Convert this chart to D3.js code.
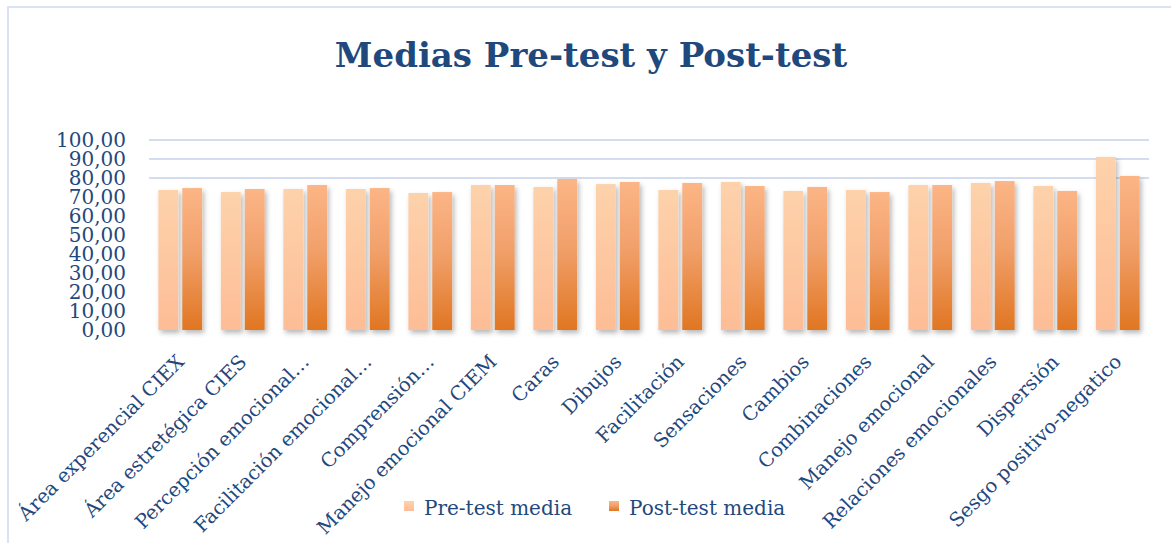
<!DOCTYPE html>
<html>
<head>
<meta charset="utf-8">
<script src="https://cdn.jsdelivr.net/npm/d3@7"></script>
<style>
  html, body { margin: 0; padding: 0; background: #fff; }
  svg { display: block; }
  text { font-family: "DejaVu Serif", "Liberation Serif", serif; }
</style>
</head>
<body>
<svg id="chart" width="1171" height="543"></svg>
<script>
const categories = [
  "Área experencial CIEX", "Área estretégica CIES", "Percepción emocional…",
  "Facilitación emocional…", "Comprensión…", "Manejo emocional CIEM",
  "Caras", "Dibujos", "Facilitación", "Sensaciones", "Cambios",
  "Combinaciones", "Manejo emocional", "Relaciones emocionales",
  "Dispersión", "Sesgo positivo-negatico"
];
const preValues  = [73.7, 72.6, 74.2, 74.2, 72.1, 76.3, 75.3, 76.8, 73.7, 77.9, 73.2, 73.7, 76.3, 77.4, 75.8, 91.1];
const postValues = [74.7, 74.2, 76.3, 74.7, 72.6, 76.3, 79.5, 77.9, 77.4, 75.8, 75.3, 72.6, 76.3, 78.4, 73.2, 81.1];
const seriesNames = ["Pre-test media", "Post-test media"];
const yTicks = [0, 10, 20, 30, 40, 50, 60, 70, 80, 90, 100];
const titleText = "Medias Pre-test y Post-test";

const svg = d3.select("#chart");
const textColor = "#1f497d";

// defs: gradients and shadows
const defs = svg.append("defs");
const gPre = defs.append("linearGradient").attr("id", "gradPre").attr("x1", 0).attr("y1", 0).attr("x2", 0).attr("y2", 1);
gPre.append("stop").attr("offset", "0%").attr("stop-color", "#fdd2ab");
gPre.append("stop").attr("offset", "100%").attr("stop-color", "#fdbd96");
const gPost = defs.append("linearGradient").attr("id", "gradPost").attr("x1", 0).attr("y1", 0).attr("x2", 0).attr("y2", 1);
gPost.append("stop").attr("offset", "0%").attr("stop-color", "#fcb586");
gPost.append("stop").attr("offset", "45%").attr("stop-color", "#f1a06a");
gPost.append("stop").attr("offset", "100%").attr("stop-color", "#e07622");
const sh = defs.append("filter").attr("id", "shadow").attr("x", "-30%").attr("y", "-10%").attr("width", "170%").attr("height", "130%");
sh.append("feDropShadow").attr("dx", 2).attr("dy", 3).attr("stdDeviation", 2.5)
  .attr("flood-color", "#000").attr("flood-opacity", 0.28);
const shG = defs.append("filter").attr("id", "gshadow").attr("x", "-5%").attr("y", "-200%").attr("width", "110%").attr("height", "500%");
shG.append("feDropShadow").attr("dx", 0).attr("dy", 1).attr("stdDeviation", 0.8)
  .attr("flood-color", "#5a6c88").attr("flood-opacity", 0.35);

// frame
svg.append("rect").attr("x", 8).attr("y", 7).attr("width", 1200).attr("height", 600)
  .attr("fill", "none").attr("stroke", "#d9e3f3").attr("stroke-width", 2);

// title
svg.append("text").attr("x", 591).attr("y", 67).attr("text-anchor", "middle")
  .attr("font-size", 34).attr("font-weight", "bold").attr("fill", textColor)
  .text(titleText);

// scales
const x0 = d3.scaleBand().domain(categories).range([149, 1149]).paddingInner(0.3).paddingOuter(0.15);
const x1 = d3.scaleBand().domain(seriesNames).range([0, x0.bandwidth()]).paddingInner(0.17);
const y = d3.scaleLinear().domain([0, 100]).range([330, 140]);

// gridlines
svg.append("g").selectAll("line").data(yTicks).join("line")
  .attr("x1", 149).attr("x2", 1149)
  .attr("y1", d => y(d)).attr("y2", d => y(d))
  .attr("stroke", "#d3ddef").attr("stroke-width", 2)
  .attr("filter", d => d <= 70 ? "url(#gshadow)" : null);

// y axis labels
const yAxis = d3.axisLeft(y).tickValues(yTicks).tickSize(0).tickPadding(0)
  .tickFormat(d => d3.format(".2f")(d).replace(".", ","));
const gy = svg.append("g").attr("transform", "translate(126,0)").call(yAxis);
gy.select(".domain").remove();
gy.selectAll("text").attr("font-size", 20).attr("fill", textColor)
  .attr("font-family", "DejaVu Serif");

// bars
const rows = categories.map((c, i) => ({ c, vals: [preValues[i], postValues[i]] }));
const grp = svg.append("g").selectAll("g").data(rows).join("g")
  .attr("transform", d => `translate(${x0(d.c)},0)`);
grp.selectAll("rect").data(d => d.vals.map((v, k) => ({ k, v }))).join("rect")
  .attr("x", d => x1(seriesNames[d.k]))
  .attr("width", x1.bandwidth())
  .attr("y", d => y(d.v))
  .attr("height", d => y(0) - y(d.v))
  .attr("fill", d => d.k === 0 ? "url(#gradPre)" : "url(#gradPost)")
  .attr("filter", "url(#shadow)");

// x axis labels (rotated)
svg.append("g").selectAll("text").data(categories).join("text")
  .attr("transform", d => `translate(${x0(d) + x0.bandwidth() / 2 + 5},363) rotate(-45)`)
  .attr("text-anchor", "end")
  .attr("font-size", 19.5).attr("fill", textColor)
  .text(d => d);

// legend
const legendX = [404, 609];
const lg = svg.append("g").selectAll("g").data(seriesNames).join("g")
  .attr("transform", (d, i) => `translate(${legendX[i]},501)`);
lg.append("rect").attr("width", 10).attr("height", 10)
  .attr("fill", (d, i) => i === 0 ? "url(#gradPre)" : "url(#gradPost)");
lg.append("text").attr("x", 20).attr("y", 14).attr("font-size", 20).attr("fill", textColor)
  .text(d => d);
</script>
</body>
</html>
